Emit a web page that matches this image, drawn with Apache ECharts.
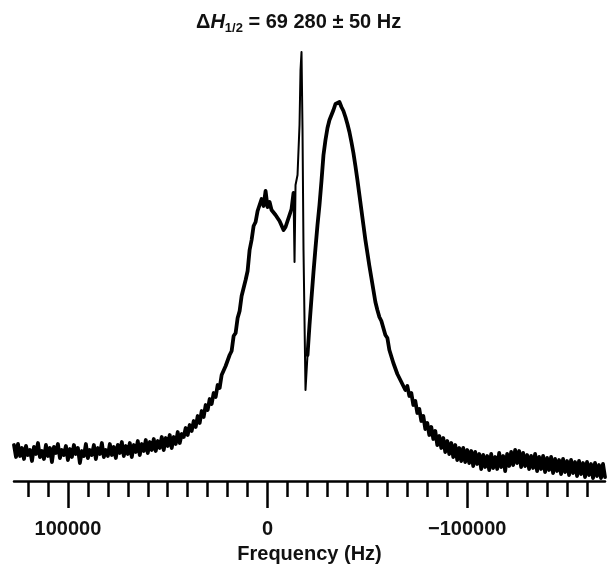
<!DOCTYPE html>
<html>
<head>
<meta charset="utf-8">
<script src="https://cdn.jsdelivr.net/npm/echarts@6/dist/echarts.min.js"></script>
<style>
html,body{margin:0;padding:0;background:#fff;}
#chart{width:607px;height:572px;}
</style>
</head>
<body>
<div id="chart"></div>
<script>
// Frequency (Hz) vs intensity (arbitrary units)
const leftWing = [[127000,36],[126000,24],[125000,37],[124000,25],[123000,33],[122000,22],[121000,35],[120000,26],[119000,31],[118000,20],[117000,34],[116000,27],[115000,38],[114000,24],[113000,30],[112000,22],[111000,36],[110000,25],[109000,33],[108000,19],[107000,34],[106000,28],[105000,37],[104000,23],[103000,31],[102000,26],[101000,35],[100000,21],[99000,32],[98000,24],[97000,36],[96000,27],[95000,33],[94000,18],[93000,30],[92000,25],[91000,37],[90000,23],[89000,31],[88000,26],[87000,36],[86000,22],[85000,33],[84000,27],[83000,38],[82000,24],[81000,31],[80000,25],[79000,37],[78000,26],[77000,34],[76000,23],[75000,36],[74000,28],[73000,39],[72000,25],[71000,35],[70000,27],[69000,38],[68000,24],[67000,36],[66000,29],[65000,40],[64000,26],[63000,37],[62000,30],[61000,41],[60000,28],[59000,39],[58000,31],[57000,42],[56000,30],[55000,40],[54000,33],[53000,44],[52000,31],[51000,43],[50000,35],[49000,46],[48000,33],[47000,44],[46000,37],[45000,49],[44000,38],[43000,47],[42000,44],[41000,53],[40000,46],[39000,56],[38000,50],[37000,60],[36000,54]];
const shoulder = [[35000,65],[34000,58],[33000,70],[32000,64],[31000,76],[30000,71],[29000,82],[28000,77],[27000,88],[26000,84],[25000,96],[24000,93],[23000,106],[22000,104],[21000,115],[20000,117],[19000,126],[18000,130],[17000,145],[16000,148],[15000,163],[14000,170],[13000,185],[12000,187],[11000,201],[10000,210],[9000,231],[8000,241],[7000,255],[6000,259],[5000,270],[4000,268],[3000,282],[2000,275],[1000,290],[0,274],[-1000,279],[-2000,271],[-3000,273],[-4000,266],[-5000,267],[-6000,260],[-7000,259],[-8000,251],[-9000,254],[-10000,255],[-11000,266],[-12000,272],[-13000,288]];
const spike = [[-13000,288],[-13500,219],[-14000,296],[-15000,306],[-16000,356],[-16500,411],[-17000,429],[-17500,351],[-18000,231],[-19000,91],[-20000,126]];
const mainPeak = [[-20000,126],[-21000,156],[-22000,183],[-23000,209],[-24000,233],[-25000,256],[-26000,276],[-27000,300],[-28000,326],[-29000,341],[-30000,353],[-31000,361],[-32000,366],[-33000,371],[-34000,377],[-35000,376],[-36000,379],[-37000,374],[-38000,370],[-39000,364],[-40000,357],[-41000,349],[-42000,339],[-43000,328],[-44000,315],[-45000,301],[-46000,286],[-47000,271],[-48000,256],[-49000,241],[-50000,228],[-51000,215],[-52000,203],[-53000,191],[-54000,179],[-55000,171],[-56000,164],[-57000,160],[-58000,153],[-59000,146],[-60000,143]];
const rightWing = [[-61000,131],[-62000,129],[-63000,118],[-64000,116],[-65000,107],[-66000,109],[-67000,99],[-68000,101],[-69000,91],[-70000,95],[-71000,85],[-72000,88],[-73000,76],[-74000,80],[-75000,68],[-76000,72],[-77000,60],[-78000,65],[-79000,52],[-80000,58],[-81000,46],[-82000,54],[-83000,42],[-84000,50],[-85000,36],[-86000,45],[-87000,33],[-88000,43],[-89000,29],[-90000,40],[-91000,27],[-92000,38],[-93000,24],[-94000,36],[-95000,21],[-96000,33],[-97000,20],[-98000,33],[-99000,19],[-100000,31],[-101000,18],[-102000,30],[-103000,15],[-104000,29],[-105000,17],[-106000,27],[-107000,12],[-108000,26],[-109000,14],[-110000,25],[-111000,11],[-112000,27],[-113000,13],[-114000,24],[-115000,12],[-116000,28],[-117000,14],[-118000,25],[-119000,10],[-120000,27],[-121000,15],[-122000,29],[-123000,16],[-124000,31],[-125000,18],[-126000,30],[-127000,14],[-128000,28],[-129000,15],[-130000,26],[-131000,12],[-132000,25],[-133000,13],[-134000,27],[-135000,10],[-136000,24],[-137000,12],[-138000,25],[-139000,9],[-140000,23],[-141000,11],[-142000,24],[-143000,8],[-144000,22],[-145000,10],[-146000,21],[-147000,7],[-148000,22],[-149000,9],[-150000,20],[-151000,6],[-152000,21],[-153000,8],[-154000,19],[-155000,5],[-156000,20],[-157000,7],[-158000,18],[-159000,4],[-160000,19],[-161000,6],[-162000,17],[-163000,3],[-164000,18],[-165000,5],[-166000,16],[-167000,3],[-168000,17],[-169000,4]];

const minorTickValues = [120000,110000,100000,90000,80000,70000,60000,50000,40000,30000,20000,10000,0,-10000,-20000,-30000,-40000,-50000,-60000,-70000,-80000,-90000,-100000,-110000,-120000,-130000,-140000,-150000,-160000];
const majorTickValues = [100000, 0, -100000];

const FONT = "'Liberation Sans', Arial, Helvetica, sans-serif";
const lineSeries = (data, width) => ({
  type: 'line', xAxisIndex: 0, data: data, showSymbol: false, symbol: 'none',
  lineStyle: {color: '#000', width: width, join: 'round', cap: 'round'}, sampling: null, z: 3
});
const chart = echarts.init(document.getElementById('chart'), null, {renderer: 'canvas'});
chart.setOption({
  animation: false,
  backgroundColor: '#fff',
  title: {
    left: 191, top: 5,
    text: '{d|Δ}{h|H}{s|1/2}{d| = 69 280 ± 50 Hz}',
    textStyle: {
      rich: {
        d: {fontFamily: FONT, fontWeight: 'bold', fontSize: 20, color: '#111', lineHeight: 25, verticalAlign: 'middle'},
        h: {fontFamily: FONT, fontWeight: 'bold', fontStyle: 'italic', fontSize: 20, color: '#111', lineHeight: 25, verticalAlign: 'middle'},
        s: {fontFamily: FONT, fontWeight: 'bold', fontSize: 13, color: '#111', lineHeight: 13, verticalAlign: 'bottom'}
      }
    }
  },
  grid: {left: 14, right: 2, top: 40, bottom: 91},
  xAxis: [{
    type: 'value', min: -169000, max: 127000, inverse: true, position: 'bottom',
    axisLine: {show: true, onZero: false, lineStyle: {color: '#000', width: 2.5}},
    axisTick: {show: true, customValues: minorTickValues, length: 16, lineStyle: {color: '#000', width: 2.5}},
    axisLabel: {show: false},
    splitLine: {show: false}
  }, {
    type: 'value', min: -169000, max: 127000, inverse: true, position: 'bottom',
    axisLine: {show: false, onZero: false},
    axisTick: {show: true, customValues: majorTickValues, length: 27, lineStyle: {color: '#000', width: 2.5}},
    axisLabel: {
      show: true, customValues: majorTickValues, margin: 38,
      fontFamily: FONT, fontWeight: 'bold', fontSize: 20, color: '#111',
      formatter: v => v < 0 ? '\u2212' + Math.abs(v) : String(v)
    },
    splitLine: {show: false},
    name: 'Frequency (Hz)', nameLocation: 'middle', nameGap: 63,
    nameTextStyle: {fontFamily: FONT, fontWeight: 'bold', fontSize: 20, color: '#111'}
  }],
  yAxis: {type: 'value', min: 0, max: 441, show: false},
  series: [
    lineSeries([].concat(leftWing, shoulder), 3.8),
    lineSeries(spike, 2),
    lineSeries([].concat(mainPeak, rightWing), 3.8)
  ]
});
</script>
</body>
</html>
